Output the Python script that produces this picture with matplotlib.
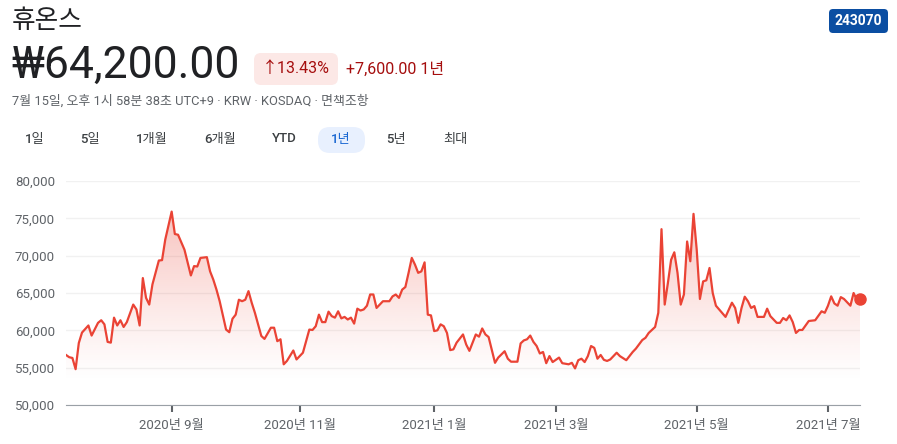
import matplotlib
matplotlib.use("Agg")
import matplotlib.pyplot as plt
from matplotlib.patches import FancyBboxPatch
from matplotlib.transforms import IdentityTransform
import numpy as np
import pandas as pd

plt.rcParams['font.family'] = ['Roboto', 'Noto Sans CJK KR', 'DejaVu Sans']

# trading calendar (KOSDAQ), 2020-07-15 .. 2021-07-15
holidays = ["2020-08-17", "2020-09-30", "2020-10-01", "2020-10-02", "2020-10-09",
            "2020-12-25", "2020-12-31", "2021-01-01", "2021-02-11", "2021-02-12",
            "2021-03-01", "2021-05-05", "2021-05-19"]
trading_days = pd.bdate_range("2020-07-15", "2021-07-15")
trading_days = trading_days[~trading_days.isin(pd.to_datetime(holidays))]

# session number (0 = 2020-07-15) and closing price
session = [0, 1, 2, 3, 4, 5, 7, 8, 10, 11, 12, 13, 14, 15, 16, 17, 18, 19, 21, 22,
           23, 24, 25, 26, 27, 29, 30, 31, 33, 34, 35, 37, 39, 40, 41, 42, 44, 45, 46, 47,
           48, 50, 51, 52, 53, 54, 55, 56, 57, 58, 59, 61, 62, 64, 65, 66, 67, 68, 69, 71,
           72, 74, 76, 77, 78, 79, 80, 81, 82, 83, 84, 85, 86, 87, 88, 89, 90, 91, 92, 93,
           94, 95, 96, 97, 99, 101, 102, 103, 104, 105, 106, 107, 108, 109, 110, 111, 112, 113, 114, 115,
           116, 117, 118, 119, 120, 121, 122, 124, 125, 126, 128, 129, 130, 131, 132, 134, 135, 137, 138, 139,
           141, 142, 143, 144, 145, 146, 147, 148, 149, 150, 151, 152, 154, 155, 157, 158, 159, 160, 161, 162,
           163, 164, 165, 166, 167, 168, 169, 170, 172, 173, 175, 177, 178, 180, 181, 182, 184, 185, 186, 187,
           188, 189, 190, 191, 192, 193, 194, 195, 196, 197, 198, 199, 200, 201, 202, 203, 204, 206, 208, 209,
           210, 211, 212, 213, 214, 215, 216, 218, 219, 220, 222, 223, 224, 225, 226, 227, 228, 229, 230, 232,
           234, 236, 237, 238, 239, 240, 241, 242, 243, 245, 246, 247, 248]
price = [56700, 56400, 56300, 54800, 58300, 59700, 60650, 59300, 61000, 61350, 60800, 58450, 58350, 61700, 60650, 61350, 60450, 61100, 63450, 62800,
         60650, 67000, 64350, 63450, 66150, 69350, 69400, 72150, 75900, 72900, 72800, 70800, 67350, 68600, 68550, 69700, 69800, 67900, 66800, 65450,
         63900, 60100, 59750, 61550, 62100, 64100, 63900, 64100, 65250, 63700, 62350, 59250, 58850, 60350, 60350, 58550, 58800, 55450, 55900, 57300,
         56100, 57000, 60100, 60050, 60550, 62100, 61100, 61100, 62500, 61900, 61700, 62550, 61600, 61800, 61450, 61700, 60900, 62900, 62650, 62800,
         63300, 64800, 64800, 63000, 63900, 63900, 64550, 64800, 64350, 65450, 65800, 67700, 69700, 68800, 67700, 67900, 69100, 62100, 62000, 59900,
         60000, 60800, 60550, 59650, 57350, 57450, 58350, 59450, 58100, 57250, 59450, 59150, 60250, 59450, 59100, 55650, 56350, 57200, 56200, 55800,
         55800, 58250, 58650, 58800, 59300, 58450, 57900, 56900, 57100, 55600, 56550, 55750, 56350, 55600, 55450, 55650, 54900, 56000, 56200, 55750,
         56550, 57900, 57650, 56200, 56700, 56050, 55900, 56100, 57000, 56550, 56000, 57100, 57550, 58700, 59000, 59650, 60450, 62350, 73550, 63450,
         66350, 69450, 70450, 67700, 63450, 64800, 71900, 69250, 75600, 70800, 64200, 66550, 66700, 68350, 65000, 63300, 62800, 61800, 63700, 63000,
         61000, 63000, 64500, 63900, 63000, 63250, 61800, 61800, 62900, 61900, 61000, 61000, 61650, 61350, 62000, 61100, 59650, 60050, 60050, 61250,
         61350, 62550, 62350, 63300, 64550, 63600, 63300, 64450, 64200, 63300, 65000, 64100, 64200]

y_ticks = [50000, 55000, 60000, 65000, 70000, 75000, 80000]
tick_months = ["2020-09", "2020-11", "2021-01", "2021-03", "2021-05", "2021-07"]
tick_labels = ["2020년 9월", "2020년 11월", "2021년 1월", "2021년 3월", "2021년 5월", "2021년 7월"]
tabs = ["1일", "5일", "1개월", "6개월", "YTD", "1년", "5년", "최대"]
tab_x = [35, 90, 152, 220, 284, 341, 396, 455]

W, H = 897, 444
RED = "#ea4335"
GREY = "#5f6368"

fig = plt.figure(figsize=(W / 100, H / 100), dpi=100)


def fx(x):
    return x / W


def fy(y):
    return 1 - y / H


def box(x0, y0, x1, y1, color, r):
    patch = FancyBboxPatch((x0, H - y1), x1 - x0, y1 - y0,
                           boxstyle=f"round,pad=0,rounding_size={r}",
                           transform=IdentityTransform(), facecolor=color,
                           edgecolor="none")
    fig.add_artist(patch)


# header
fig.text(fx(12), fy(21), "휴온스", fontsize=18.5, color="#202124", va="center")
fig.text(fx(11), fy(66), "₩64,200.00", fontsize=32, color="#202124", va="center")
box(254, 53, 338, 85, "#fce8e6", 7)
fig.text(fx(296), fy(69), "↑13.43%", fontsize=11.5, color="#a50e0e", va="center", ha="center")
fig.text(fx(346), fy(69), "+7,600.00 1년", fontsize=11.5, color="#a50e0e", va="center")
fig.text(fx(12), fy(101), "7월 15일, 오후 1시 58분 38초 UTC+9 · KRW · KOSDAQ · 면책조항",
         fontsize=9.3, color=GREY, va="center")
box(829, 9, 888, 33, "#0b4ea2", 4)
fig.text(fx(858.5), fy(21), "243070", fontsize=10, color="white", weight="bold",
         va="center", ha="center")

box(318, 127, 365, 153, "#e8f0fe", 12)
for label, x in zip(tabs, tab_x):
    color = "#1967d2" if label == "1년" else "#3c4043"
    fig.text(fx(x), fy(139), label, fontsize=9.5, color=color, weight="medium",
             va="center", ha="center")

# chart
ax = fig.add_axes([fx(66), fy(405), (860 - 66) / W, (405 - 181) / H])
x = np.array(session)
y = np.array(price)

poly = ax.fill_between(x, y, 50000, color="none", lw=0)
alpha = np.clip((np.linspace(50000, 80000, 256) - 53000) / 23000, 0, 1) ** 1.2 * 0.32
rgba = np.zeros((256, 1, 4))
rgba[..., :3] = matplotlib.colors.to_rgb(RED)
rgba[:, 0, 3] = alpha
im = ax.imshow(rgba, extent=[0, 248, 50000, 80000], origin="lower",
               aspect="auto", zorder=1, interpolation="bilinear")
im.set_clip_path(poly.get_paths()[0], transform=ax.transData)

ax.plot(x, y, color=RED, lw=1.6, solid_joinstyle="round", zorder=3)
ax.plot(x[-1], y[-1], "o", color=RED, ms=8, zorder=4, clip_on=False)

ax.set_xlim(0, 248)
ax.set_ylim(50000, 80000)
ax.set_yticks(y_ticks)
ax.set_yticklabels([f"{v:,}" for v in y_ticks])
ax.grid(axis="y", color="#f1f1f1", lw=1)
ax.set_axisbelow(True)

tick_pos = [trading_days.get_indexer(trading_days[trading_days.strftime("%Y-%m") == m][:1])[0]
            for m in tick_months]
ax.set_xticks(tick_pos)
ax.set_xticklabels(tick_labels)

for side in ["top", "right", "left"]:
    ax.spines[side].set_visible(False)
ax.spines["bottom"].set_color("#9aa0a6")
ax.tick_params(axis="y", length=0, pad=8, labelsize=9.5, labelcolor=GREY)
ax.tick_params(axis="x", length=5, width=1.5, color=GREY, pad=5,
               labelsize=9.5, labelcolor=GREY)

fig.savefig("out.png", dpi=100)
